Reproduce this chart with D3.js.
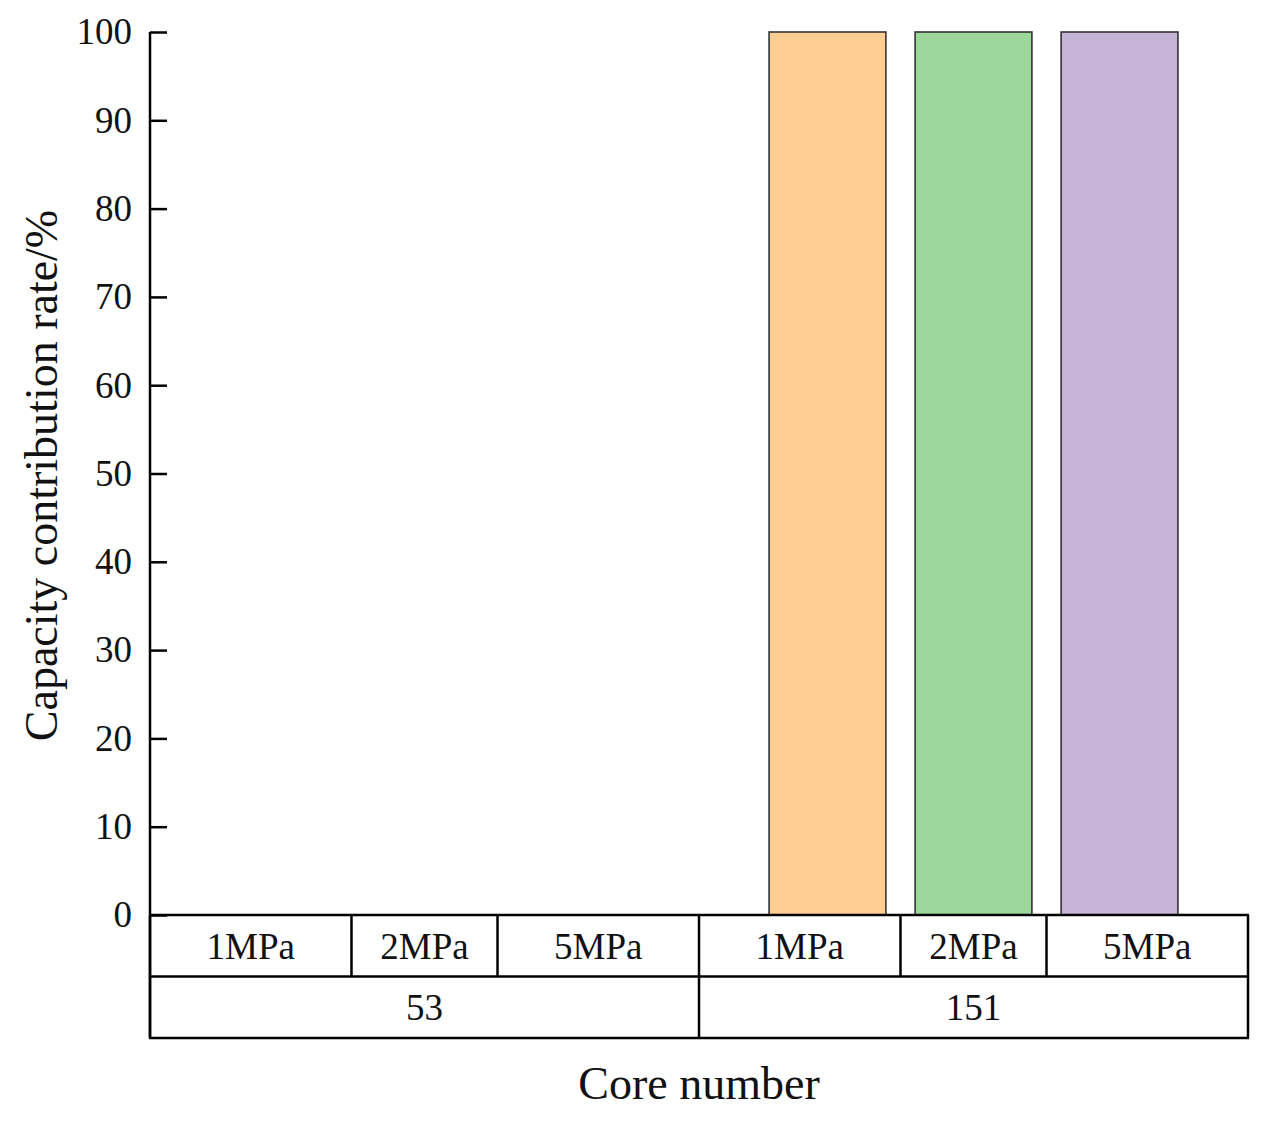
<!DOCTYPE html>
<html>
<head>
<meta charset="utf-8">
<script src="https://cdn.jsdelivr.net/npm/d3@7"></script>
<style>
    body { margin: 0; background: #fff; }
    svg text { font-family: "Liberation Serif", "Times New Roman", serif; fill: #111; }
</style>
</head>
<body>
<div id="chart"></div>
<script>
// chart data
const cores = ["53", "151"];
const pressures = ["1MPa", "2MPa", "5MPa"];
const values53 = [0, 0, 0];
const values151 = [100, 100, 100];
const yTicks = [0, 10, 20, 30, 40, 50, 60, 70, 80, 90, 100];
const barColors = ["#fecd92", "#9dd79b", "#c6b4d8"];

const seriesByCore = { "53": values53, "151": values151 };

const width = 1263, height = 1121;
const margin = { left: 150, right: 15, top: 32 };
const plotBottom = 915;
const rowH = 61.5;
const smallFont = 37;
const titleFont = 46;

const svg = d3.select("#chart")
    .append("svg")
    .attr("width", width)
    .attr("height", height);

// scales
const x0 = d3.scaleBand()
    .domain(cores)
    .range([margin.left, width - margin.right]);

const x1 = d3.scaleBand()
    .domain(pressures)
    .range([0, x0.bandwidth()])
    .paddingInner(0.2)
    .paddingOuter(0.48);

const y = d3.scaleLinear()
    .domain([0, 100])
    .range([plotBottom, margin.top]);

// bars
const groups = svg.append("g")
    .selectAll("g")
    .data(cores)
    .join("g")
    .attr("transform", d => `translate(${x0(d)},0)`);

groups.selectAll("rect")
    .data(core => pressures.map((p, i) => ({ p, i, v: seriesByCore[core][i] })))
    .join("rect")
    .filter(d => d.v > 0)
    .attr("x", d => x1(d.p))
    .attr("y", d => y(d.v))
    .attr("width", x1.bandwidth())
    .attr("height", d => y(0) - y(d.v))
    .attr("fill", d => barColors[d.i])
    .attr("stroke", "#333")
    .attr("stroke-width", 1.6);

// y axis, ticks pointing inward
const yAxis = svg.append("g")
    .attr("transform", `translate(${margin.left},0)`)
    .call(d3.axisLeft(y).tickValues(yTicks).tickSizeInner(-17).tickSizeOuter(0).tickPadding(18));

yAxis.select(".domain").remove();
yAxis.selectAll(".tick line").attr("stroke", "#000").attr("stroke-width", 2.5);
yAxis.selectAll(".tick text").attr("font-size", smallFont).attr("fill", "#111");

// table lines under the plot
const tableBottom = plotBottom + 2 * rowH;
const lines = svg.append("g")
    .attr("stroke", "#000")
    .attr("stroke-width", 2.5)
    .attr("fill", "none");

lines.append("line")
    .attr("x1", margin.left).attr("x2", margin.left)
    .attr("y1", margin.top).attr("y2", tableBottom);
lines.append("line")
    .attr("x1", x0.range()[1]).attr("x2", x0.range()[1])
    .attr("y1", plotBottom).attr("y2", tableBottom);
[plotBottom, plotBottom + rowH, tableBottom].forEach(yy => {
    lines.append("line")
        .attr("x1", margin.left - 1).attr("x2", x0.range()[1] + 1)
        .attr("y1", yy).attr("y2", yy);
});

// cell edges: group edges and midpoints between bars
const cellEdges = [];
cores.forEach(core => {
    const start = x0(core);
    const centers = pressures.map(p => start + x1(p) + x1.bandwidth() / 2);
    const edges = [start];
    for (let i = 0; i < centers.length - 1; i++) edges.push((centers[i] + centers[i + 1]) / 2);
    edges.push(start + x0.bandwidth());
    cellEdges.push({ core, edges });
});

cellEdges.forEach(({ core, edges }) => {
    lines.append("line")
        .attr("x1", edges[0]).attr("x2", edges[0])
        .attr("y1", plotBottom).attr("y2", tableBottom);
    edges.slice(1, -1).forEach(e => {
        lines.append("line")
            .attr("x1", e).attr("x2", e)
            .attr("y1", plotBottom).attr("y2", plotBottom + rowH);
    });
    pressures.forEach((p, i) => {
        svg.append("text")
            .attr("x", (edges[i] + edges[i + 1]) / 2)
            .attr("y", plotBottom + rowH / 2 + 13)
            .attr("text-anchor", "middle")
            .attr("font-size", smallFont)
            .text(p);
    });
    svg.append("text")
        .attr("x", x0(core) + x0.bandwidth() / 2)
        .attr("y", plotBottom + rowH * 1.5 + 13)
        .attr("text-anchor", "middle")
        .attr("font-size", smallFont)
        .text(core);
});

// axis titles
svg.append("text")
    .attr("transform", `translate(57,${(margin.top + plotBottom) / 2 + 2}) rotate(-90)`)
    .attr("text-anchor", "middle")
    .attr("font-size", titleFont)
    .text("Capacity contribution rate/%");

svg.append("text")
    .attr("x", (x0.range()[0] + x0.range()[1]) / 2)
    .attr("y", 1099)
    .attr("text-anchor", "middle")
    .attr("font-size", titleFont)
    .text("Core number");
</script>
</body>
</html>
